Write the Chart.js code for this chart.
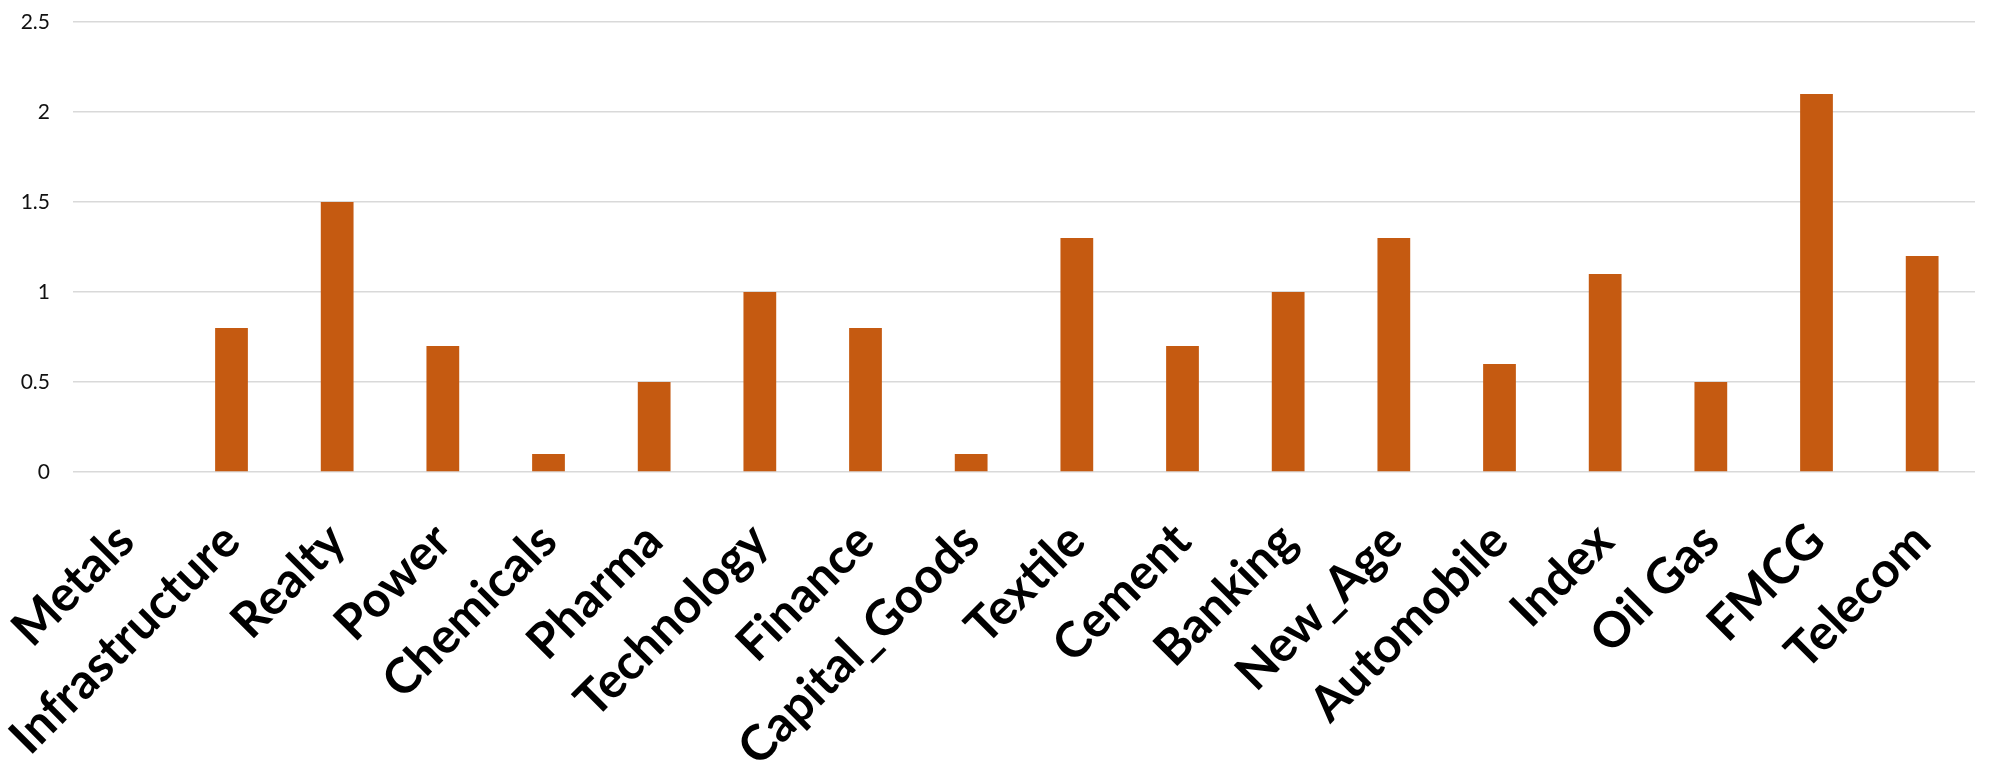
<!DOCTYPE html>
<html>
<head>
<meta charset="utf-8">
<script src="https://cdn.jsdelivr.net/npm/chart.js@4/dist/chart.umd.min.js"></script>
<style>
  html, body { margin: 0; padding: 0; background: #fff; }
</style>
</head>
<body>
<canvas id="sectorChart" width="1989" height="763"></canvas>
<script>
const sectors = ['Metals', 'Infrastructure', 'Realty', 'Power', 'Chemicals', 'Pharma', 'Technology',
    'Finance', 'Capital_Goods', 'Textile', 'Cement', 'Banking', 'New_Age', 'Automobile', 'Index',
    'Oil Gas', 'FMCG', 'Telecom'];
const values = [0, 0.8, 1.5, 0.7, 0.1, 0.5, 1.0, 0.8, 0.1, 1.3, 0.7, 1.0, 1.3, 0.6, 1.1, 0.5, 2.1, 1.2];
const yMax = 2.5;
const yStep = 0.5;

const ctx = document.getElementById('sectorChart').getContext('2d');
const sectorChart = new Chart(ctx, {
    type: 'bar',
    data: {
        labels: sectors,
        datasets: [{
            data: values,
            backgroundColor: '#C55A11',
            categoryPercentage: 1,
            barPercentage: 0.31
        }]
    },
    options: {
        responsive: false,
        animation: false,
        devicePixelRatio: 1,
        layout: { padding: { top: 22, left: 0, right: 14, bottom: 0 } },
        plugins: { legend: { display: false }, tooltip: { enabled: false } },
        scales: {
            x: {
                grid: { display: false },
                border: { display: false },
                // fixed axis height, and no extra side padding for the rotated labels
                afterFit: (scale) => {
                    scale.height = 291;
                    scale.paddingLeft = 0;
                    scale.paddingRight = 0;
                },
                ticks: {
                    autoSkip: false,
                    minRotation: 45,
                    maxRotation: 45,
                    padding: 32,
                    color: '#000',
                    font: { family: 'Lato', size: 49, weight: 'bold' }
                }
            },
            y: {
                min: 0,
                max: yMax,
                afterFit: (scale) => {
                    scale.width = 73;
                    scale.paddingTop = 0;
                    scale.paddingBottom = 0;
                },
                ticks: {
                    stepSize: yStep,
                    padding: 23,
                    color: '#111',
                    font: { family: 'Lato', size: 21 },
                    callback: (v) => String(v)
                },
                grid: { color: '#D9D9D9', lineWidth: 1.5, drawTicks: false },
                border: { display: false }
            }
        }
    }
});
</script>
</body>
</html>
